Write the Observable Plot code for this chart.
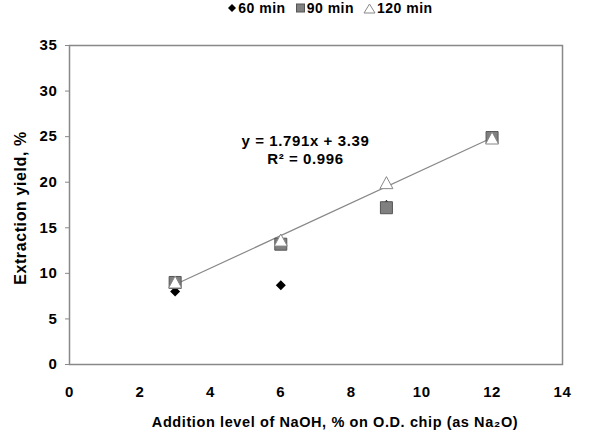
<!DOCTYPE html>
<html><head><meta charset="utf-8">
<script src="https://cdn.jsdelivr.net/npm/d3@7"></script>
<script src="https://cdn.jsdelivr.net/npm/@observablehq/plot@0.6"></script>
<style>
body{margin:0;background:#fff;font-family:"Liberation Sans",Arial,sans-serif;}
#legend{height:16px;display:flex;justify-content:center;align-items:center;gap:9px;font-weight:bold;font-size:14px;letter-spacing:0.5px;color:#000;padding-left:70px;box-sizing:border-box;}
#legend span{display:flex;align-items:center;gap:1px;}
</style></head><body>
<div id="legend"></div>
<div id="chart"></div>
<script>
const naoh = [3, 6, 9, 12];
const y60 = [8.0, 8.7, 17.5, 24.9];
const y90 = [9.0, 13.2, 17.2, 24.9];
const y120 = [9.0, 13.6, 19.9, 24.8];
const seriesNames = ["60 min", "90 min", "120 min"];
const xTicks = [0, 2, 4, 6, 8, 10, 12, 14];
const yTicks = [0, 5, 10, 15, 20, 25, 30, 35];
const equation = "y = 1.791x + 3.39\nR² = 0.996";

const d60 = naoh.map((x, i) => ({x, y: y60[i]}));
const d90 = naoh.map((x, i) => ({x, y: y90[i]}));
const d120 = naoh.map((x, i) => ({x, y: y120[i]}));

const rOf = size => Math.sqrt(size / Math.PI);
const diamondSym = {draw(c, size) { const r = rOf(size); c.moveTo(0, -r); c.lineTo(r, 0); c.lineTo(0, r); c.lineTo(-r, 0); c.closePath(); }};
const squareSym = {draw(c, size) { const r = rOf(size); c.rect(-r, -r, 2 * r, 2 * r); }};
const triSym = {draw(c, size) { const r = rOf(size); c.moveTo(0, -r); c.lineTo(r, r * 0.85); c.lineTo(-r, r * 0.85); c.closePath(); }};

// legend
const leg = document.getElementById("legend");
const glyphs = [
  '<svg width="10" height="10"><path d="M5 1L9 5L5 9L1 5Z" fill="#000"/></svg>',
  '<svg width="11" height="10"><rect x="1.5" y="1" width="8" height="8" fill="#808080" stroke="#555"/></svg>',
  '<svg width="13" height="11"><path d="M6.5 1L12 10L1 10Z" fill="#fff" stroke="#888"/></svg>'
];
seriesNames.forEach((n, i) => {
  const s = document.createElement("span");
  s.innerHTML = glyphs[i] + n;
  leg.appendChild(s);
});

const chart = Plot.plot({
  width: 590,
  height: 416,
  marginLeft: 69,
  marginRight: 28,
  marginTop: 29,
  marginBottom: 68,
  style: {fontFamily: "Liberation Sans, Arial, sans-serif", fontSize: "15px", fontWeight: "bold", color: "#000", letterSpacing: "0.6px"},
  x: {domain: [0, 14], label: null},
  y: {domain: [0, 35], label: null},
  marks: [
    Plot.frame({stroke: "#888", strokeWidth: 1.5}),
    Plot.axisX({ticks: xTicks, tickSize: 0, tickPadding: 22, fontSize: 15, fontWeight: "bold", label: null}),
    Plot.axisY({ticks: yTicks, tickSize: 4, tickPadding: 8, stroke: "#888", fontSize: 15, fontWeight: "bold", label: null}),
    Plot.linearRegressionY(d120, {x: "x", y: "y", ci: 0, stroke: "#888", strokeWidth: 1.2}),
    Plot.dot(d60, {x: "x", y: "y", symbol: diamondSym, r: 5, fill: "#000"}),
    Plot.dot(d90, {x: "x", y: "y", symbol: squareSym, r: 6, fill: "#808080", stroke: "#555", strokeWidth: 1}),
    Plot.dot(d120, {x: "x", y: "y", symbol: triSym, r: 6.5, fill: "#fff", stroke: "#888", strokeWidth: 1}),
    Plot.text([equation], {x: 6.7, y: 23.6, text: d => d, fontSize: 15, fontWeight: "bold", fill: "#000", lineHeight: 1.2, letterSpacing: "1.2px"}),
    Plot.text(["Addition level of NaOH, % on O.D. chip (as Na\u2082O)"], {frameAnchor: "bottom", dx: 19, dy: 62, text: d => d, fontSize: 14.5, fontWeight: "bold", fill: "#000"}),
    Plot.text(["Extraction yield, %"], {frameAnchor: "left", textAnchor: "middle", dx: -49, dy: 3, rotate: -90, text: d => d, fontSize: 16, fontWeight: "bold", fill: "#000"})
  ]
});
document.getElementById("chart").appendChild(chart);
</script>
</body></html>
